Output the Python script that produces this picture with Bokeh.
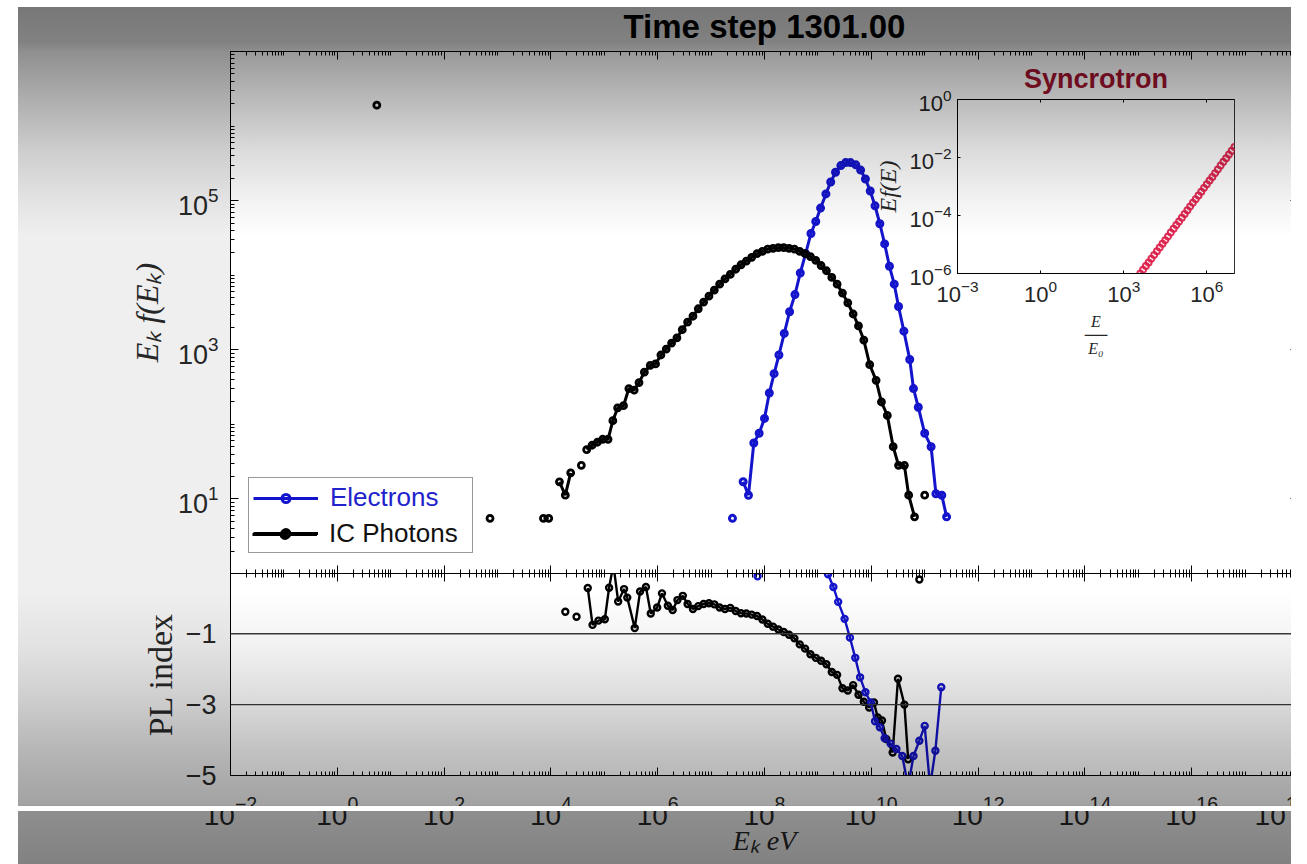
from bokeh.plotting import figure
from bokeh.models import (Range1d, LogAxis, FixedTicker, Legend, LegendItem, Span, Div)
from bokeh.layouts import column
from bokeh.embed import file_html
from bokeh.resources import INLINE

NAN = float("nan")

# ---------------------------------------------------------------------------
# Spectra at time step 1301: log10(E_k / eV) and log10(E_k f(E_k)); NaN = empty bin
electrons_log_e = [7.40, NAN, 7.60, 7.70, 7.80, 7.90, 8.00, 8.09, 8.18, 8.27, 8.37, 8.47,
                   8.57, 8.67, 8.77, 8.87, 8.96, 9.05, 9.15, 9.24, 9.33, 9.43, 9.52, 9.61,
                   9.71, 9.80, 9.89, 9.98, 10.07, 10.16, 10.25, 10.34, 10.43, 10.51, 10.61,
                   10.72, 10.79, 10.88, 11.00, 11.12, 11.21, 11.32, 11.41]
electrons_log_f = [0.74, NAN, 1.23, 1.05, 1.75, 1.88, 2.08, 2.42, 2.68, 2.93, 3.22, 3.51,
                   3.74, 4.03, 4.29, 4.56, 4.72, 4.90, 5.09, 5.25, 5.38, 5.47, 5.51, 5.51,
                   5.48, 5.41, 5.29, 5.13, 4.93, 4.69, 4.42, 4.12, 3.88, 3.58, 3.25,
                   2.87, 2.48, 2.23, 1.88, 1.70, 1.07, 1.05, 0.76]

photons_log_e = [0.74, NAN, 2.86, NAN, 3.86, 3.96, NAN, 4.16, 4.27, 4.37, NAN, 4.57, NAN,
                 4.67, 4.77, 4.87, 4.97, 5.07, 5.16, 5.25, 5.36, 5.46, 5.56, 5.65, 5.75,
                 5.86, 5.96, 6.06, 6.16, 6.26, 6.36, 6.46, 6.56, 6.66, 6.76, 6.86, 6.96,
                 7.06, 7.16, 7.26, 7.36, 7.46, 7.56, 7.66, 7.76, 7.86, 7.96, 8.06, 8.16,
                 8.26, 8.36, 8.46, 8.56, 8.66, 8.76, 8.86, 8.96, 9.06, 9.16, 9.26, 9.36,
                 9.46, 9.56, 9.66, 9.76, 9.86, 9.97, 10.09, 10.19, 10.30, 10.41, 10.51,
                 10.62, 10.70, 10.81, NAN, 11.00]
photons_log_f = [6.28, NAN, 0.74, NAN, 0.74, 0.74, NAN, 1.23, 1.05, 1.35, NAN, 1.45, NAN,
                 1.66, 1.72, 1.76, 1.80, 1.80, 2.05, 2.22, 2.25, 2.48, 2.46, 2.56, 2.70,
                 2.79, 2.81, 2.93, 3.01, 3.09, 3.16, 3.27, 3.37, 3.45, 3.55, 3.64, 3.72,
                 3.80, 3.88, 3.95, 4.01, 4.08, 4.14, 4.19, 4.24, 4.29, 4.32, 4.35, 4.36,
                 4.37, 4.37, 4.36, 4.35, 4.32, 4.29, 4.25, 4.20, 4.13, 4.06, 3.97, 3.88,
                 3.76, 3.63, 3.48, 3.32, 3.13, 2.80, 2.59, 2.30, 2.12, 1.70, 1.45,
                 1.45, 1.05, 0.76, NAN, 1.05]

# Local power-law index of each spectrum
electrons_pl_log_e = [7.87, NAN, 9.19, 9.29, 9.38, 9.50, 9.60, 9.70, 9.79, 9.89, 9.99, 10.07,
                      10.16, 10.25, 10.36, 10.47, 10.58, 10.69, 10.79, 10.90, 11.00, 11.10,
                      11.20, 11.31]
electrons_pl = [0.62, NAN, 0.68, 0.32, -0.10, -0.58, -1.11, -1.68, -2.23, -2.65, -2.94, -3.47,
                -3.64, -3.95, -4.10, -4.25, -4.45, -5.30, -4.45, -4.02, -3.60, -5.30,
                -4.30, -2.51]

photons_pl_log_e = [4.27, NAN, 4.48, NAN, 4.69, 4.78, 4.89, 5.01, 5.09, 5.17, 5.26, 5.37,
                    5.43, 5.57, 5.67, 5.78, 5.87, 5.99, 6.08, 6.19, 6.28, 6.37, 6.47, 6.56,
                    6.66, 6.76, 6.86, 6.96, 7.06, 7.16, 7.26, 7.36, 7.46, 7.56, 7.66, 7.76,
                    7.86, 7.96, 8.06, 8.16, 8.26, 8.36, 8.46, 8.56, 8.66, 8.76, 8.86, 8.96,
                    9.06, 9.16, 9.26, 9.36, 9.46, 9.56, 9.66, 9.76, 9.86, 9.96, 10.05,
                    10.12, 10.20, 10.28, 10.40, 10.50, 10.62, 10.69, NAN, 10.90]
photons_pl = [-0.38, NAN, -0.52, NAN, 0.29, -0.75, -0.63, -0.59, 0.30, 0.95, -0.09, 0.26,
              0.02, -0.84, 0.19, 0.32, -0.43, -0.26, 0.14, -0.21, -0.33, -0.05, 0.07, -0.16,
              -0.30, -0.22, -0.16, -0.14, -0.17, -0.26, -0.30, -0.27, -0.36, -0.42, -0.43,
              -0.46, -0.50, -0.60, -0.72, -0.80, -0.88, -0.95, -1.03, -1.13, -1.30, -1.42,
              -1.58, -1.68, -1.76, -1.86, -2.08, -2.16, -2.54, -2.60, -2.45, -2.72, -2.92,
              -3.08, -2.94, -3.36, -3.45, -3.97, -4.35, -2.27, -3.00, -4.54, NAN, 0.53]

# Synchrotron spectrum (inset): log10(E/E0), log10(E f(E))
sync_log_e = [3.60, 3.70, 3.80, 3.90, 4.00, 4.10, 4.20, 4.30, 4.40, 4.50, 4.60, 4.70,
              4.80, 4.90, 5.00, 5.10, 5.20, 5.30, 5.40, 5.50, 5.60, 5.70, 5.80, 5.90,
              6.00, 6.10, 6.20, 6.30, 6.40, 6.50, 6.60, 6.70, 6.80, 6.90, 7.00]
sync_log_f = [-6.00, -5.87, -5.74, -5.62, -5.49, -5.36, -5.23, -5.10, -4.97, -4.85, -4.72,
              -4.59, -4.46, -4.33, -4.21, -4.08, -3.95, -3.82, -3.69, -3.56, -3.44, -3.31,
              -3.18, -3.05, -2.92, -2.79, -2.67, -2.54, -2.41, -2.28, -2.15, -2.03, -1.90,
              -1.77, -1.64]

# Tick positions (exponents) and reference index levels
energy_major_exp = [-2, 0, 2, 4, 6, 8, 10, 12, 14, 16, 18]
spectrum_major_exp = [1, 3, 5]
pl_ticks = [-5, -3, -1]
pl_ref_levels = [-1, -3]
inset_x_major_exp = [-3, 0, 3, 6]
inset_y_major_exp = [-6, -4, -2, 0]

BLUE = "#1414cc"
BLACK = "#000000"
SYNC_RED = "#dc1d48"
TICK_TXT = "#262626"


def pow10(vals):
    return [10.0 ** v for v in vals]


def log_minor(lo, hi, majors):
    out = []
    for n in range(lo, hi):
        for k in range(1, 10):
            if k == 1 and n in majors:
                continue
            out.append(k * 10.0 ** n)
    return out


def style_axis(ax, ticker, labels, font_size="27px", major_in=8, minor_in=4):
    ax.ticker = ticker
    ax.axis_line_color = "black"
    ax.axis_line_width = 1
    ax.major_tick_in = major_in
    ax.major_tick_out = 0
    ax.minor_tick_in = minor_in
    ax.minor_tick_out = 0
    ax.major_tick_line_color = "black"
    ax.minor_tick_line_color = "black"
    if labels:
        ax.major_label_text_font = "Liberation Sans"
        ax.major_label_text_font_size = font_size
        ax.major_label_text_color = TICK_TXT
    else:
        ax.major_label_text_font_size = "0px"
        ax.major_label_text_color = None
        ax.major_label_standoff = 0


def at(left, top):
    return {"position": "absolute", "left": f"{left}px", "top": f"{top}px"}


def block(left, top, w, h, css):
    st = at(left, top)
    st.update({"width": f"{w}px", "height": f"{h}px", "pointer-events": "none"})
    st.update(css)
    return Div(text="", width=w, height=h, margin=0, styles=st)


x_major = pow10(energy_major_exp)
x_minor = log_minor(-2, 18, energy_major_exp)

# Both stacked panels share the frame columns x 184..1252 on the page
FRAME_L, FRAME_W, SIDE_R = 184, 1068, 55

# ---------------------------------------------------------------- main panel
# frame: y 51..573 on the page
MAIN_TOP_PAD = 80
p = figure(x_axis_type="log", y_axis_type="log",
           x_range=Range1d(1e-2, 1e18), y_range=Range1d(1e0, 1e7),
           frame_width=FRAME_W, frame_height=522,
           min_border_left=FRAME_L, min_border_right=SIDE_R, min_border_top=MAIN_TOP_PAD,
           min_border_bottom=6,
           output_backend="svg", toolbar_location=None,
           background_fill_color="white", border_fill_alpha=0,
           outline_line_color="black", outline_line_width=1,
           title="Time step 1301.00",
           styles=at(0, 51 - MAIN_TOP_PAD))
p.grid.visible = False
p.title.align = "center"
p.title.text_font = "Liberation Sans"
p.title.text_font_size = "33px"
p.title.text_font_style = "bold"
p.title.text_color = "black"
p.title.standoff = 14

style_axis(p.xaxis[0], FixedTicker(ticks=x_major, minor_ticks=x_minor), labels=False)
y_major = pow10(spectrum_major_exp)
y_minor = log_minor(0, 7, spectrum_major_exp)
style_axis(p.yaxis[0], FixedTicker(ticks=y_major, minor_ticks=y_minor), labels=True)
p.yaxis[0].major_label_standoff = 12
p.yaxis[0].axis_label = "Eₖ f(Eₖ)"
p.yaxis[0].axis_label_text_font = "Liberation Serif"
p.yaxis[0].axis_label_text_font_style = "italic"
p.yaxis[0].axis_label_text_font_size = "32px"
p.yaxis[0].axis_label_text_color = TICK_TXT
p.yaxis[0].axis_label_standoff = 10

top_ax = LogAxis()
style_axis(top_ax, FixedTicker(ticks=x_major, minor_ticks=x_minor), labels=False)
p.add_layout(top_ax, "above")
right_ax = LogAxis()
style_axis(right_ax, FixedTicker(ticks=y_major, minor_ticks=y_minor), labels=False)
p.add_layout(right_ax, "right")

e_x, e_y = pow10(electrons_log_e), pow10(electrons_log_f)
g_x, g_y = pow10(photons_log_e), pow10(photons_log_f)

e_line = p.line(e_x, e_y, line_color=BLUE, line_width=3)
e_dot = p.scatter(e_x, e_y, marker="circle", size=6, line_color=BLUE, line_width=3,
                  fill_color=None)
g_line = p.line(g_x, g_y, line_color=BLACK, line_width=3)
g_dot = p.scatter(g_x, g_y, marker="circle", size=6, line_color=BLACK, line_width=2.8,
                  fill_color=None)

legend_common = dict(location=(18, 20), label_text_font="Liberation Sans",
                     label_text_font_size="26px", glyph_width=65, glyph_height=20,
                     label_height=30, label_standoff=12, spacing=5, padding=4, margin=0)
legend_main = Legend(items=[LegendItem(label="Electrons", renderers=[e_line, e_dot]),
                            LegendItem(label=" ", renderers=[g_line, g_dot])],
                     label_width=138, label_text_color="#2222cc",
                     border_line_color="#333333", border_line_width=1,
                     background_fill_color="white", background_fill_alpha=1,
                     **legend_common)
legend_ic = Legend(items=[LegendItem(label="IC Photons", renderers=[g_line, g_dot])],
                   label_text_color="#111111", border_line_alpha=0,
                   background_fill_alpha=0, **legend_common)
p.add_layout(legend_main)
p.add_layout(legend_ic)

# ------------------------------------------------------------ PL index panel
# frame: y 573..775 on the page
LOW_TOP_PAD = 20
q = figure(x_axis_type="log", x_range=p.x_range, y_range=Range1d(-5, 0.7),
           frame_width=FRAME_W, frame_height=202,
           min_border_left=FRAME_L, min_border_right=SIDE_R, min_border_top=LOW_TOP_PAD,
           min_border_bottom=60,
           output_backend="svg", toolbar_location=None,
           background_fill_color="white", border_fill_alpha=0,
           outline_line_color="black", outline_line_width=1,
           styles=at(0, 573 - LOW_TOP_PAD))
q.grid.visible = False

style_axis(q.xaxis[0], FixedTicker(ticks=x_major, minor_ticks=x_minor), labels=True,
           font_size="28px")
q.xaxis[0].major_label_standoff = 20
q.xaxis[0].axis_label = "Eₖ eV"
q.xaxis[0].axis_label_text_font = "Liberation Serif"
q.xaxis[0].axis_label_text_font_style = "italic"
q.xaxis[0].axis_label_text_font_size = "28px"
q.xaxis[0].axis_label_text_color = TICK_TXT
q.xaxis[0].axis_label_standoff = -3

style_axis(q.yaxis[0], FixedTicker(ticks=pl_ticks), labels=True)
q.yaxis[0].major_label_standoff = 14
q.yaxis[0].axis_label = "PL index"
q.yaxis[0].axis_label_text_font = "Liberation Serif"
q.yaxis[0].axis_label_text_font_style = "normal"
q.yaxis[0].axis_label_text_font_size = "34px"
q.yaxis[0].axis_label_text_color = TICK_TXT
q.yaxis[0].axis_label_standoff = 4

q_top = LogAxis()
style_axis(q_top, FixedTicker(ticks=x_major, minor_ticks=x_minor), labels=False)
q.add_layout(q_top, "above")

for lvl in pl_ref_levels:
    q.add_layout(Span(location=lvl, dimension="width", line_color="#3a3a3a", line_width=1.3))

ep_x = pow10(electrons_pl_log_e)
gp_x = pow10(photons_pl_log_e)
q.line(gp_x, photons_pl, line_color=BLACK, line_width=2.4)
q.scatter(gp_x, photons_pl, marker="circle", size=6, line_color=BLACK, line_width=2.4,
          fill_color=None)
q.line(ep_x, electrons_pl, line_color=BLUE, line_width=2.4)
q.scatter(ep_x, electrons_pl, marker="circle", size=6, line_color=BLUE, line_width=2.4,
          fill_color=None)

# ------------------------------------------------------------ synchrotron inset
# frame: x 957..1234, y 99..273 on the page
INS_L, INS_R, INS_T, INS_B = 230, 20, 45, 95
ins = figure(x_axis_type="log", y_axis_type="log",
             x_range=Range1d(1e-3, 1e7), y_range=Range1d(1e-6, 1e0),
             frame_width=277, frame_height=174,
             min_border_left=INS_L, min_border_right=INS_R, min_border_top=INS_T,
             min_border_bottom=INS_B,
             output_backend="svg", toolbar_location=None,
             background_fill_alpha=0, border_fill_alpha=0,
             outline_line_color="#333333", outline_line_width=1,
             title="Syncrotron",
             styles=at(957 - INS_L, 99 - INS_T))
ins.grid.visible = False
ins.title.align = "center"
ins.title.text_font = "Liberation Sans"
ins.title.text_font_size = "27px"
ins.title.text_font_style = "bold"
ins.title.text_color = "#a3122f"
ins.title.standoff = 12

ix_major = pow10(inset_x_major_exp)
iy_major = pow10(inset_y_major_exp)
style_axis(ins.xaxis[0], FixedTicker(ticks=ix_major), labels=True, font_size="22px",
           major_in=3)
ins.xaxis[0].major_label_standoff = 6
ins.xaxis[0].axis_label = "E\n──\nE₀"
ins.xaxis[0].axis_label_text_font = "Liberation Serif"
ins.xaxis[0].axis_label_text_font_style = "italic"
ins.xaxis[0].axis_label_text_font_size = "16px"
ins.xaxis[0].axis_label_text_line_height = 0.8
ins.xaxis[0].axis_label_text_color = TICK_TXT
ins.xaxis[0].axis_label_standoff = 8
style_axis(ins.yaxis[0], FixedTicker(ticks=iy_major), labels=True, font_size="22px",
           major_in=3)
ins.yaxis[0].major_label_standoff = 6
ins.yaxis[0].axis_label = "Ef(E)"
ins.yaxis[0].axis_label_text_font = "Liberation Serif"
ins.yaxis[0].axis_label_text_font_style = "italic"
ins.yaxis[0].axis_label_text_font_size = "24px"
ins.yaxis[0].axis_label_text_color = TICK_TXT
ins.yaxis[0].axis_label_standoff = 5
ins_top = LogAxis()
style_axis(ins_top, FixedTicker(ticks=ix_major), labels=False, major_in=3)
ins.add_layout(ins_top, "above")

s_x, s_y = pow10(sync_log_e), pow10(sync_log_f)
ins.scatter(s_x, s_y, marker="circle", size=6, line_color=SYNC_RED, line_width=2.0,
            fill_color=None, line_alpha=0.9)

# ------------------------------------------------------------ page background
backdrop = block(0, 0, 1307, 864, {"background": "white"})
canvas_bg = block(18, 7, 1273, 857, {"background": "#efefef"})
shade = block(18, 7, 1273, 857, {"background": (
    "linear-gradient(to bottom, rgba(0,0,0,0.50) 0px, rgba(0,0,0,0.46) 35px, "
    "rgba(0,0,0,0.40) 45px, rgba(0,0,0,0.27) 93px, rgba(0,0,0,0.14) 143px, "
    "rgba(0,0,0,0.05) 193px, rgba(0,0,0,0) 230px, rgba(0,0,0,0) 585px, "
    "rgba(0,0,0,0.06) 643px, rgba(0,0,0,0.14) 693px, rgba(0,0,0,0.24) 743px, "
    "rgba(0,0,0,0.32) 798px, rgba(0,0,0,0.40) 800px, rgba(0,0,0,0.46) 857px)")})
rule = block(0, 806, 1307, 5, {"background": "white"})
left_margin = block(0, 0, 18, 864, {"background": "white"})
right_margin = block(1291, 0, 16, 864, {"background": "white"})

root = column(backdrop, canvas_bg, p, q, ins, shade, rule, left_margin, right_margin,
              width=1307, height=864, sizing_mode="fixed",
              styles={"position": "relative", "overflow": "hidden"})

open("out.html", "w").write(file_html(root, INLINE))
